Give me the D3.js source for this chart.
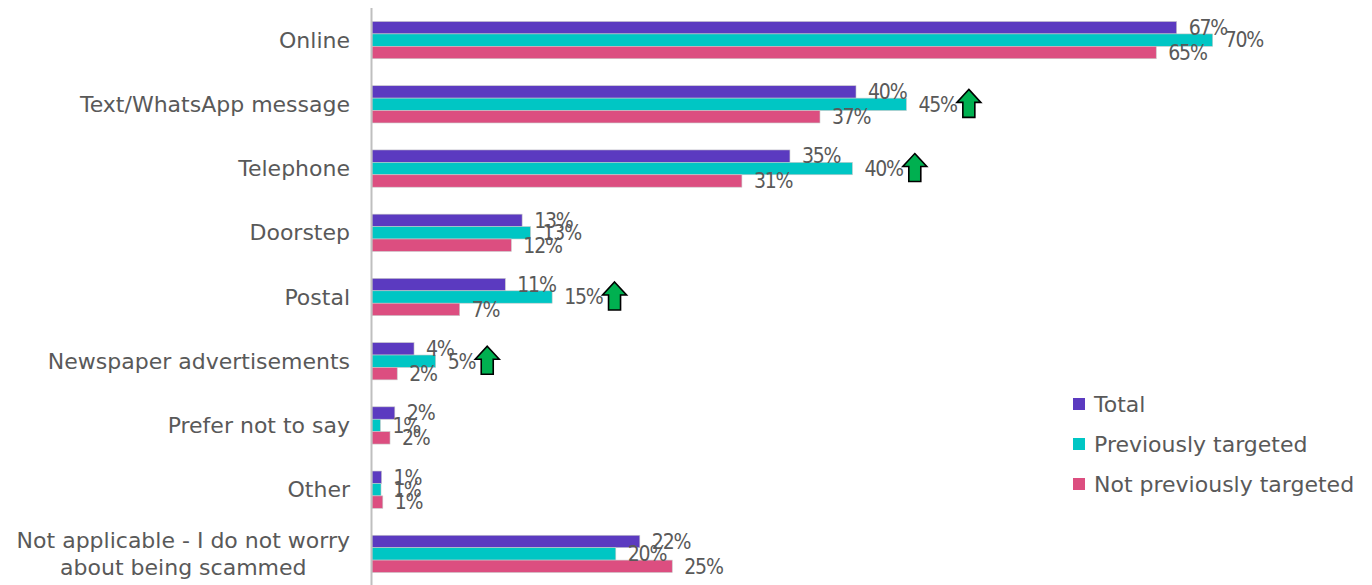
<!DOCTYPE html>
<html>
<head>
<meta charset="utf-8">
<script src="https://cdn.jsdelivr.net/npm/d3@7"></script>
<style>
	body { margin: 0; background: #fff; }
	svg text { fill: #595959; }
</style>
</head>
<body>
<div class="chart"></div>
<script>
// data
const categories = ['Online', 'Text/WhatsApp message', 'Telephone', 'Doorstep', 'Postal',
	'Newspaper advertisements', 'Prefer not to say', 'Other', 'Not applicable - I do not worry about being scammed'];
const seriesNames = ['Total', 'Previously targeted', 'Not previously targeted'];
const total = [67, 40.3, 34.8, 12.5, 11.1, 3.5, 1.9, 0.8, 22.3];
const previouslyTargeted = [70, 44.5, 40, 13.2, 15, 5.3, 0.7, 0.75, 20.3];
const notPreviouslyTargeted = [65.3, 37.3, 30.8, 11.6, 7.3, 2.1, 1.5, 0.9, 25];
// significant increase markers (previously targeted series)
const upArrow = [false, true, true, false, true, true, false, false, false];
const colors = ['#5b3ac0', '#00c6c4', '#dc4e80'];

let w = 1372;
let h = 585;
let left = 372;

let svg = d3.select('.chart').append('svg').attr('width', w).attr('height', h);

let xScale = d3.scaleLinear().domain([0, 70]).range([left, left + 70 * 12.01]);
let yScale = d3.scaleBand().domain(categories).range([8, 586]).paddingInner(0.42).paddingOuter(0.21);
let sub = d3.scaleBand().domain([0, 1, 2]).range([0, yScale.bandwidth()]);

let rows = categories.map((c, i) => ({
	cat: c,
	vals: [total[i], previouslyTargeted[i], notPreviouslyTargeted[i]],
	arrow: upArrow[i]
}));

// bars
let groups = svg.selectAll('g.row').data(rows).enter().append('g')
	.attr('class', 'row')
	.attr('transform', d => 'translate(0,' + yScale(d.cat) + ')');

groups.selectAll('rect').data(d => d.vals).enter().append('rect')
	.attr('x', xScale(0))
	.attr('y', (d, i) => sub(i))
	.attr('width', d => xScale(d) - xScale(0))
	.attr('height', sub.bandwidth())
	.attr('fill', (d, i) => colors[i])
	.attr('stroke', '#c8c8c8')
	.attr('stroke-width', 0.6);

// value labels
groups.each(function(d) {
	let g = d3.select(this);
	d.vals.forEach((v, i) => {
		let t = g.append('text')
			.attr('x', xScale(v) + 12)
			.attr('y', sub(i) + sub.bandwidth() / 2)
			.attr('dy', '0.35em')
			.attr('font-family', 'DejaVu Sans Condensed')
			.attr('font-size', 21)
			.attr('letter-spacing', -1.2)
			.text(Math.round(v) + '%');
		if (i === 1 && d.arrow) {
			let x0 = xScale(v) + 12 + t.node().getComputedTextLength();
			let cy = sub(i) + sub.bandwidth() / 2;
			let aw = 24, ah = 28, hh = 13, sw = 6;
			let x1 = x0 + aw / 2;
			let top = cy - ah / 2 - 1;
			g.append('path')
				.attr('d', `M${x1},${top} L${x0 + aw},${top + hh} L${x1 + sw},${top + hh} L${x1 + sw},${top + ah} ` +
					`L${x1 - sw},${top + ah} L${x1 - sw},${top + hh} L${x0},${top + hh} Z`)
				.attr('fill', '#00b050')
				.attr('stroke', '#000')
				.attr('stroke-width', 1.6)
				.attr('stroke-linejoin', 'miter');
		}
	});
});

// y axis line
svg.append('line')
	.attr('x1', left - 0.5).attr('x2', left - 0.5)
	.attr('y1', 8).attr('y2', h)
	.attr('stroke', '#bfbfbf')
	.attr('stroke-width', 2);

// category labels
let catFont = 'DejaVu Sans';
categories.forEach(c => {
	let cy = yScale(c) + yScale.bandwidth() / 2;
	let lines = c.length > 30 ? ['Not applicable - I do not worry', 'about being scammed'] : [c];
	let t = svg.append('text')
		.attr('font-family', catFont)
		.attr('font-size', 22)
		.attr('text-anchor', lines.length > 1 ? 'middle' : 'end');
	lines.forEach((l, k) => {
		t.append('tspan')
			.attr('x', 350)
			.attr('y', cy + (k - (lines.length - 1) / 2) * 27)
			.attr('dy', '0.35em')
			.text(l);
	});
	if (lines.length > 1) {
		let bw = t.node().getBBox().width;
		t.selectAll('tspan').attr('x', 350 - bw / 2);
	}
});

// legend
let legend = svg.append('g').attr('transform', 'translate(1073,404)');
seriesNames.forEach((s, i) => {
	legend.append('rect')
		.attr('x', 0).attr('y', i * 40 - 6)
		.attr('width', 12).attr('height', 12)
		.attr('fill', colors[i]);
	legend.append('text')
		.attr('x', 21).attr('y', i * 40)
		.attr('dy', '0.35em')
		.attr('font-family', catFont)
		.attr('font-size', 22)
		.text(s);
});
</script>
</body>
</html>
